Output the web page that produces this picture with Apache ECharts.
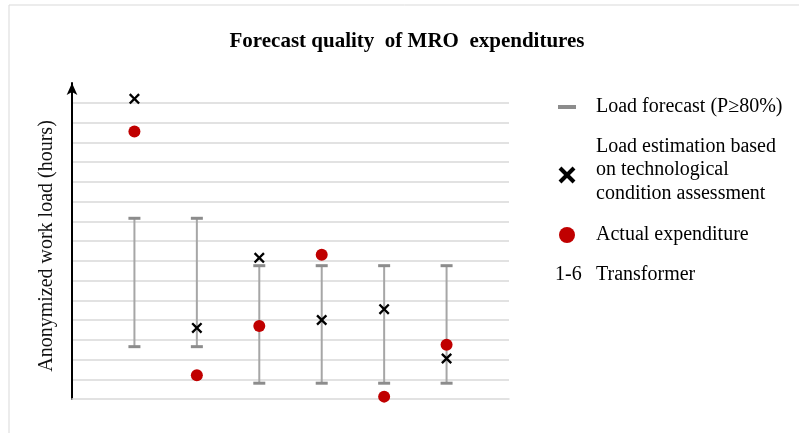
<!DOCTYPE html>
<html>
<head>
<meta charset="utf-8">
<script src="https://cdn.jsdelivr.net/npm/echarts@6/dist/echarts.min.js"></script>
<style>
  html, body { margin: 0; padding: 0; background: #fff; }
  #chart { width: 799px; height: 433px; }
</style>
</head>
<body>
<div id="chart"></div>
<script>
// transformers 1-6, values in anonymized grid units
const transformers = [1, 2, 3, 4, 5, 6];
const forecastLow = [2.65, 2.65, 0.8, 0.8, 0.8, 0.8];
const forecastHigh = [9.15, 9.15, 6.75, 6.75, 6.75, 6.75];
const estimation = [15.2, 3.6, 7.15, 4.0, 4.55, 2.05];
const actual = [13.55, 1.2, 3.7, 7.3, 0.12, 2.75];

const serif = '"Liberation Serif", "Times New Roman", serif';
const crossPath = 'path://M0,3 L3,0 L10,7 L17,0 L20,3 L13,10 L20,17 L17,20 L10,13 L3,20 L0,17 L7,10 Z';

const chart = echarts.init(document.getElementById('chart'));

const rangeData = transformers.map((t, i) => [t, forecastLow[i], forecastHigh[i]]);

const option = {
  backgroundColor: '#fff',
  animation: false,
  grid: { left: 72, right: 290, top: 83, bottom: 34 },
  xAxis: {
    type: 'value',
    min: 0,
    max: 7,
    axisLabel: { show: false },
    axisTick: { show: false },
    splitLine: { show: false },
    axisLine: { lineStyle: { color: '#d9d9d9', width: 1.5 } }
  },
  yAxis: {
    type: 'value',
    min: 0,
    max: 16,
    interval: 1,
    axisLabel: { show: false },
    axisTick: { show: false },
    axisLine: {
      show: true,
      lineStyle: { color: '#000', width: 2 },
      symbol: ['none', 'arrow'],
      symbolSize: [8, 12]
    },
    splitLine: {
      show: true,
      showMinLine: false,
      showMaxLine: false,
      lineStyle: { color: '#d9d9d9', width: 1.5 }
    }
  },
  series: [
    {
      name: 'Load forecast (P≥80%)',
      type: 'custom',
      data: rangeData,
      renderItem: function (params, api) {
        const x = api.value(0);
        const lo = api.coord([x, api.value(1)]);
        const hi = api.coord([x, api.value(2)]);
        const half = 6;
        return {
          type: 'group',
          children: [
            { type: 'line', shape: { x1: lo[0], y1: lo[1], x2: hi[0], y2: hi[1] },
              style: { stroke: '#a6a6a6', lineWidth: 2 } },
            { type: 'line', shape: { x1: lo[0] - half, y1: lo[1], x2: lo[0] + half, y2: lo[1] },
              style: { stroke: '#8c8c8c', lineWidth: 3 } },
            { type: 'line', shape: { x1: hi[0] - half, y1: hi[1], x2: hi[0] + half, y2: hi[1] },
              style: { stroke: '#8c8c8c', lineWidth: 3 } }
          ]
        };
      }
    },
    {
      name: 'Actual expenditure',
      type: 'scatter',
      symbol: 'circle',
      symbolSize: 12,
      itemStyle: { color: '#c00000', opacity: 1 },
      data: transformers.map((t, i) => [t, actual[i]])
    },
    {
      name: 'Load estimation',
      type: 'scatter',
      symbol: crossPath,
      symbolSize: 11,
      itemStyle: { color: '#000', opacity: 1 },
      data: transformers.map((t, i) => [t, estimation[i]])
    }
  ],
  graphic: [
    // outer chart border (only top/left visible)
    { type: 'rect', shape: { x: 9, y: 5, width: 900, height: 600 },
      style: { fill: 'none', stroke: '#d9d9d9', lineWidth: 1 }, silent: true },
    { type: 'text', x: 407, y: 42,
      style: { text: 'Forecast quality  of MRO  expenditures', font: 'bold 21px ' + serif,
        fill: '#000', textAlign: 'center', textVerticalAlign: 'middle' } },
    // y axis title
    { type: 'text', x: 47, y: 246, rotation: Math.PI / 2,
      style: { text: 'Anonymized work load (hours)', font: '20px ' + serif, fill: '#111',
        textAlign: 'center', textVerticalAlign: 'middle' } },
    // legend
    { type: 'rect', shape: { x: 558, y: 105, width: 18, height: 4 }, style: { fill: '#8c8c8c' } },
    { type: 'text', x: 596, y: 107,
      style: { text: 'Load forecast (P≥80%)', font: '20px ' + serif, fill: '#000', textVerticalAlign: 'middle' } },
    { type: 'line', shape: { x1: 560, y1: 168, x2: 574, y2: 182 },
      style: { stroke: '#000', lineWidth: 4 } },
    { type: 'line', shape: { x1: 574, y1: 168, x2: 560, y2: 182 },
      style: { stroke: '#000', lineWidth: 4 } },
    { type: 'text', x: 596, y: 135,
      style: { text: 'Load estimation based\non technological\ncondition assessment', font: '20px ' + serif,
        fill: '#000', lineHeight: 23.3, textVerticalAlign: 'top' } },
    { type: 'circle', shape: { cx: 567, cy: 235, r: 8 }, style: { fill: '#c00000' } },
    { type: 'text', x: 596, y: 235,
      style: { text: 'Actual expenditure', font: '20px ' + serif, fill: '#000', textVerticalAlign: 'middle' } },
    { type: 'text', x: 555, y: 275,
      style: { text: '1-6', font: '20px ' + serif, fill: '#000', textVerticalAlign: 'middle' } },
    { type: 'text', x: 596, y: 275,
      style: { text: 'Transformer', font: '20px ' + serif, fill: '#000', textVerticalAlign: 'middle' } }
  ]
};

chart.setOption(option);
</script>
</body>
</html>
